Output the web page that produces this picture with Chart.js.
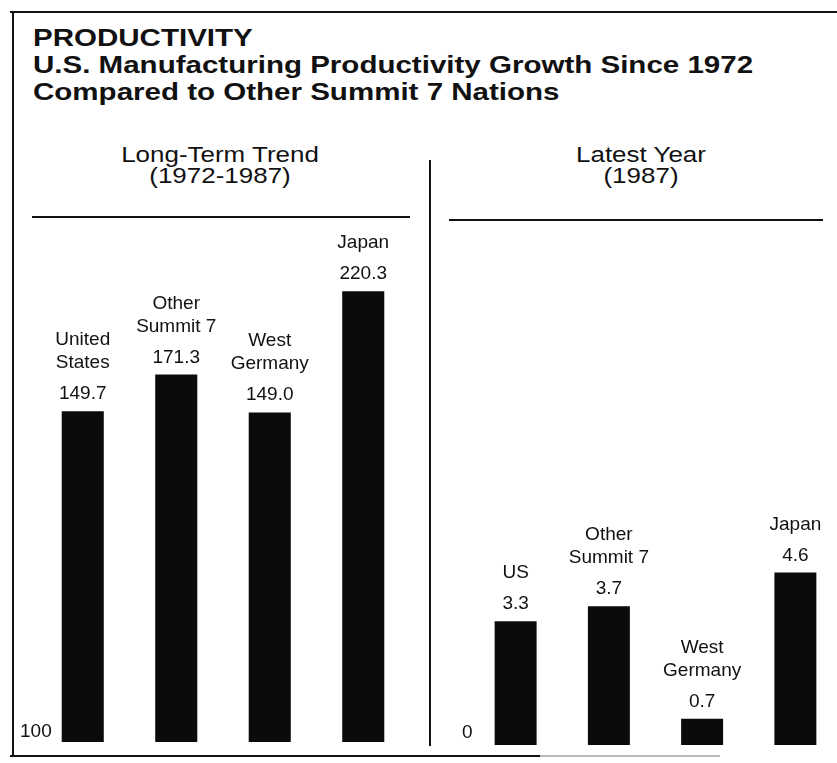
<!DOCTYPE html>
<html>
<head>
<meta charset="utf-8">
<title>Productivity</title>
<script src="https://cdn.jsdelivr.net/npm/chart.js@4.4.1/dist/chart.umd.min.js"></script>
<style>
  html, body { margin: 0; padding: 0; background: #fff; overflow: hidden; }
  body { width: 837px; height: 763px; position: relative; font-family: "Liberation Sans", Arial, sans-serif; color: #111; }
  .line { position: absolute; background: #111; }
  .title { position: absolute; left: 33px; top: 24px; font-weight: bold; font-size: 24px; line-height: 27px;
           transform: scaleX(1.23); transform-origin: 0 0; white-space: nowrap; }
  .head { position: absolute; text-align: center; font-size: 22px; line-height: 21px; white-space: nowrap;
          transform: scaleX(1.18); }
  canvas { position: absolute; }
</style>
</head>
<body>
  <!-- frame -->
  <div class="line" style="left:10px; top:11px; width:827px; height:2px;"></div>
  <div class="line" style="left:12px; top:11px; width:2px; height:746px;"></div>
  <div class="line" style="left:10px; top:755px; width:530px; height:2px;"></div>
  <div class="line" style="left:540px; top:755px; width:180px; height:2px; background:#bbb;"></div>

  <div class="title">PRODUCTIVITY<br>U.S. Manufacturing Productivity Growth Since 1972<br>Compared to Other Summit 7 Nations</div>

  <div class="head" style="left:120px; width:200px; top:144px;">Long-Term Trend<br>(1972-1987)</div>
  <div class="line" style="left:32px; top:216px; width:378px; height:2px;"></div>

  <div class="head" style="left:541px; width:200px; top:144px;">Latest Year<br>(1987)</div>
  <div class="line" style="left:449px; top:219px; width:374px; height:2px;"></div>

  <div class="line" style="left:429px; top:160px; width:2px; height:586px;"></div>

  <canvas id="trendChart" width="412" height="533" style="left:14px; top:217px;"></canvas>
  <canvas id="latestChart" width="420" height="533" style="left:440px; top:220px;"></canvas>

<script>
// index values, 1972 = 100
const trendNames = [['United', 'States'], ['Other', 'Summit 7'], ['West', 'Germany'], ['Japan']];
const trendValues = [149.7, 171.3, 149.0, 220.3];
const trendBase = '100';

// percent change, 1987
const latestNames = [['US'], ['Other', 'Summit 7'], ['West', 'Germany'], ['Japan']];
const latestValues = [3.3, 3.7, 0.7, 4.6];
const latestBase = '0';

const labelFont = '19px "Liberation Sans", Arial, sans-serif';

// writes the country name and value above each bar, plus the base value at the bottom left
const barLabels = {
    id: 'barLabels',
    afterDatasetsDraw(chart, args, opts) {
        const ctx = chart.ctx;
        const area = chart.chartArea;
        const meta = chart.getDatasetMeta(0);
        const names = opts.names;
        ctx.save();
        ctx.fillStyle = '#111';
        ctx.font = labelFont;
        ctx.textAlign = 'center';
        ctx.textBaseline = 'alphabetic';
        meta.data.forEach((bar, i) => {
            const valueY = bar.y - 12;
            ctx.fillText(chart.data.datasets[0].data[i].toFixed(1), bar.x, valueY);
            const lines = names[i];
            lines.forEach((txt, j) => {
                const y = valueY - 31 - (lines.length - 1 - j) * 23;
                ctx.fillText(txt, bar.x, y);
            });
        });
        ctx.textAlign = 'left';
        ctx.fillText(opts.base, area.left + opts.baseOffset, area.bottom - opts.baseLift);
        ctx.restore();
    }
};

function makeChart(id, names, values, base, yMin, yMax, pad, baseOffset, baseLift) {
    return new Chart(document.getElementById(id), {
        type: 'bar',
        data: {
            labels: names.map(n => n.join(' ')),
            datasets: [{
                data: values,
                base: yMin,
                backgroundColor: '#0b0b0b',
                borderWidth: 0,
                barPercentage: 1,
                categoryPercentage: 0.45
            }]
        },
        options: {
            responsive: false,
            animation: false,
            layout: { padding: pad },
            scales: {
                x: { display: false },
                y: { display: false, min: yMin, max: yMax }
            },
            plugins: {
                legend: { display: false },
                tooltip: { enabled: false },
                barLabels: { names: names, base: base, baseOffset: baseOffset, baseLift: baseLift }
            }
        },
        plugins: [barLabels]
    });
}

// bars rise from the bottom of each panel; the left floor sits below 100 to keep the printed proportions
makeChart('trendChart', trendNames, trendValues, trendBase, -45, 264,
    { left: 22, right: 16, top: 0, bottom: 8 }, -16, 5);
makeChart('latestChart', latestNames, latestValues, latestBase, 0, 14,
    { left: 29, right: 18, top: 0, bottom: 8 }, -7, 7);
</script>
</body>
</html>
